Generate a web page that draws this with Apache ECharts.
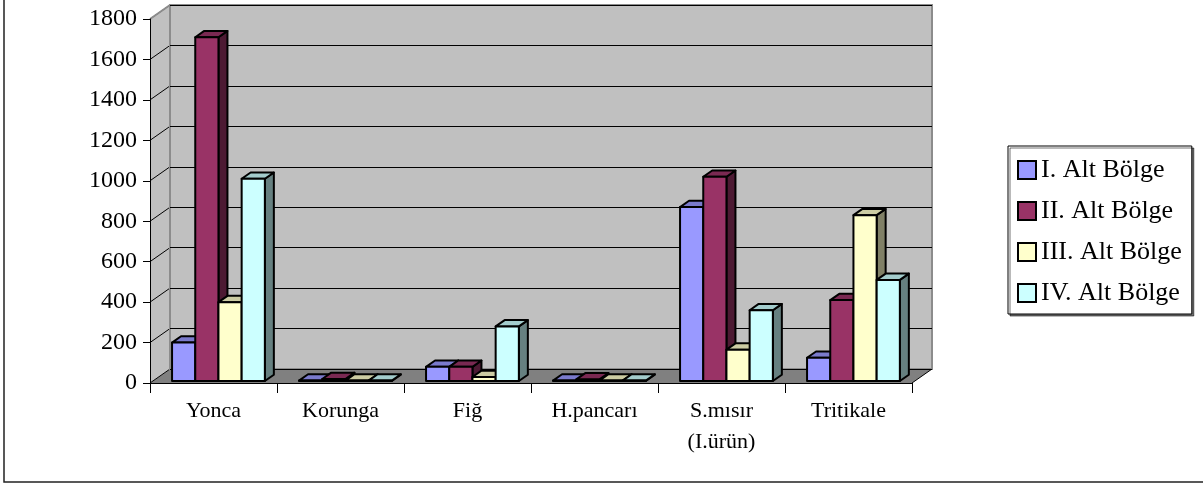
<!DOCTYPE html>
<html>
<head>
<meta charset="utf-8">
<script src="https://cdn.jsdelivr.net/npm/echarts@6/dist/echarts.min.js"></script>
<style>
html,body{margin:0;padding:0;background:#fff;}
#chart{width:1203px;height:485px;}
</style>
</head>
<body>
<div id="chart"></div>
<script>
// ---- data ----
const categories = ['Yonca', 'Korunga', 'Fiğ', 'H.pancarı', 'S.mısır\n(I.ürün)', 'Tritikale'];
const seriesNames = ['I. Alt Bölge', 'II. Alt Bölge', 'III. Alt Bölge', 'IV. Alt Bölge'];
const alt1 = [190, 2, 70, 2, 860, 115];
const alt2 = [1700, 10, 70, 8, 1010, 400];
const alt3 = [390, 2, 20, 2, 155, 820];
const alt4 = [1000, 2, 270, 2, 350, 500];
const yMin = 0, yMax = 1800, yInterval = 200;

// ---- styles ----
const frontColors = ['#9999FF', '#993366', '#FFFFCC', '#CCFFFF'];
const topColors = ['#7A7ACC', '#7A2952', '#CCCCA3', '#A3CCCC'];
const sideColors = ['#4D4D80', '#4D1A33', '#808066', '#668080'];
const FONT = '"Liberation Serif", "Times New Roman", serif';
const DX = 20, DY = -14;          // wall depth
const BDX = 9, BDY = -6.3;        // bar depth
const BAR_FRAC = 0.1827;          // bar width / band
const SHIFT_FRAC = 0.039;         // bar group shift / band
const FRONT_DY = -2;
const LW = 2;

const allSeries = [alt1, alt2, alt3, alt4];

function renderFrame(params, api) {
  const cs = params.coordSys;
  const x0 = cs.x, y0 = cs.y, x1 = cs.x + cs.width, y1 = cs.y + cs.height;
  const children = [
    { type: 'polygon', shape: { points: [[x0, y1], [x1, y1], [x1 + DX, y1 + DY], [x0 + DX, y1 + DY]] },
      style: { fill: '#808080' } },
    { type: 'polygon', shape: { points: [[x0, y1], [x0, y0], [x0 + DX, y0 + DY], [x0 + DX, y1 + DY]] },
      style: { fill: '#C0C0C0' } }
  ];
  for (let v = yMin; v <= yMax; v += yInterval) {
    const y = api.coord([0, v])[1];
    children.push({ type: 'line', shape: { x1: x0, y1: y, x2: x0 + DX, y2: y + DY },
      style: { stroke: '#000', lineWidth: 1 } });
  }
  children.push({ type: 'line', shape: { x1: x0, y1: y0, x2: x0 + DX, y2: y0 + DY },
    style: { stroke: '#8C8C8C', lineWidth: 2 } });
  children.push({ type: 'line', shape: { x1: x1, y1: y1, x2: x1 + DX, y2: y1 + DY },
    style: { stroke: '#000', lineWidth: 1 } });
  return { type: 'group', children: children };
}

function makeBar(s) {
  return function (params, api) {
    const c = api.value(0), v = api.value(1);
    const pTop = api.coord([c, v]);
    const pBase = api.coord([c, 0]);
    const band = api.size([1, 0])[0];
    const bw = band * BAR_FRAC;
    const left = pTop[0] - 2 * bw + s * bw + band * SHIFT_FRAC;
    const r = left + bw;
    const yt = pTop[1] + FRONT_DY, yb = pBase[1] + FRONT_DY;
    const st = (fill) => ({ fill: fill, stroke: '#000', lineWidth: LW, lineJoin: 'round' });
    return { type: 'group', children: [
      { type: 'polygon', shape: { points: [[r, yt], [r, yb], [r + BDX, yb + BDY], [r + BDX, yt + BDY]] }, style: st(sideColors[s]) },
      { type: 'polygon', shape: { points: [[left, yt], [r, yt], [r + BDX, yt + BDY], [left + BDX, yt + BDY]] }, style: st(topColors[s]) },
      { type: 'rect', shape: { x: left, y: yt, width: bw, height: yb - yt }, style: st(frontColors[s]) }
    ] };
  };
}

const chart = echarts.init(document.getElementById('chart'), null, { renderer: 'canvas' });

const series = [{
  type: 'custom', name: 'frame', xAxisIndex: 0, yAxisIndex: 0, z: -1, silent: true,
  data: [[0, 0]], renderItem: renderFrame
}];
allSeries.forEach((vals, s) => {
  series.push({
    type: 'custom', name: seriesNames[s], xAxisIndex: 0, yAxisIndex: 0, z: 2,
    itemStyle: { color: frontColors[s] },
    encode: { x: 0, y: 1 },
    data: vals.map((v, i) => [i, v]),
    renderItem: makeBar(s)
  });
});

chart.setOption({
  animation: false,
  backgroundColor: '#fff',
  graphic: [{
    type: 'rect', shape: { x: 4, y: -10, width: 1220, height: 492 },
    style: { fill: null, stroke: '#222', lineWidth: 1.5 }, z: -10
  }],
  grid: [
    { left: 150, top: 19, width: 762, height: 364, containLabel: false },
    { left: 170, top: 5, width: 762, height: 364, show: true, backgroundColor: '#C0C0C0',
      borderColor: '#8C8C8C', borderWidth: 2 }
  ],
  legend: {
    orient: 'vertical', left: 1008, top: 146,
    padding: [11, 10, 8, 9],
    itemWidth: 18, itemHeight: 18, itemGap: 15,
    borderColor: '#000', borderWidth: 1, backgroundColor: '#fff',
    shadowColor: 'rgba(0,0,0,0.55)', shadowOffsetX: 2, shadowOffsetY: 2, shadowBlur: 0,
    icon: 'rect',
    itemStyle: { borderColor: '#000', borderWidth: 2 },
    textStyle: { fontFamily: FONT, fontSize: 26, color: '#000', lineHeight: 24 },
    data: seriesNames
  },
  xAxis: [
    { type: 'category', gridIndex: 0, data: categories, boundaryGap: true,
      axisLine: { show: true, lineStyle: { color: '#000', width: 1 } },
      axisTick: { show: true, alignWithLabel: false, interval: 0, length: 10, lineStyle: { color: '#000' } },
      axisLabel: { interval: 0, margin: 13, fontFamily: FONT, fontSize: 22, color: '#000', lineHeight: 31 },
      splitLine: { show: false } },
    { type: 'value', gridIndex: 1, show: false, min: 0, max: 1 }
  ],
  yAxis: [
    { type: 'value', gridIndex: 0, min: yMin, max: yMax, interval: yInterval,
      axisLine: { show: true, lineStyle: { color: '#000', width: 1 } },
      axisTick: { show: true, length: 7, lineStyle: { color: '#000' } },
      axisLabel: { margin: 13, fontFamily: FONT, fontSize: 24, color: '#000',
        formatter: (v) => String(v) },
      splitLine: { show: false } },
    { type: 'value', gridIndex: 1, min: yMin, max: yMax, interval: yInterval,
      axisLine: { show: false }, axisTick: { show: false }, axisLabel: { show: false },
      splitLine: { show: true, lineStyle: { color: '#000', width: 1 } } }
  ],
  series: series
});
</script>
</body>
</html>
